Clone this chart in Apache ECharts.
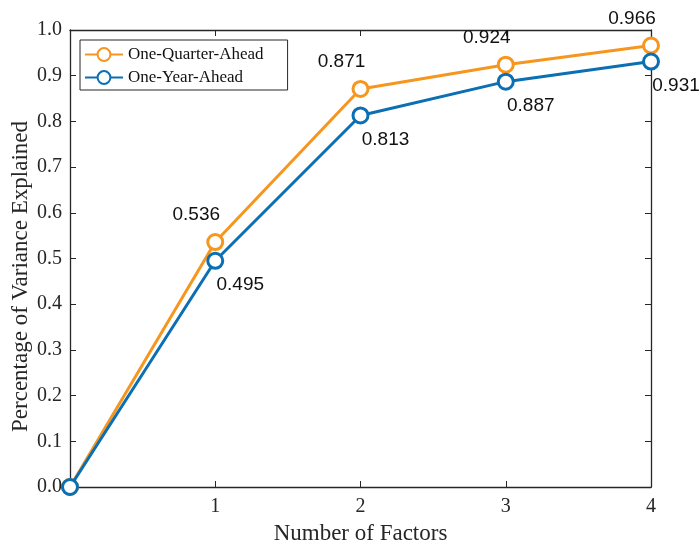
<!DOCTYPE html>
<html><head><meta charset="utf-8">
<script src="https://cdn.jsdelivr.net/npm/echarts@6/dist/echarts.min.js"></script>
<style>html,body{margin:0;padding:0;background:#fff}#c{width:700px;height:546px}</style>
</head><body><div id="c"></div>
<script>
const factors = [0, 1, 2, 3, 4];
const quarterAhead = [0, 0.536, 0.871, 0.924, 0.966];
const yearAhead = [0, 0.495, 0.813, 0.887, 0.931];
const seriesNames = ['One-Quarter-Ahead', 'One-Year-Ahead'];

const axisColor = '#262626';
const serif = 'Liberation Serif';
const orange = '#F7961E';
const blue = '#0A6FB3';
const pairs = (ys) => factors.map((x, i) => [x, ys[i]]);
const fmt = (p) => p.value[0] === 0 ? '' : p.value[1].toFixed(3);

const chart = echarts.init(document.getElementById('c'));
const baseAxis = {
  axisLine: { show: true, onZero: false, lineStyle: { color: axisColor, width: 1.3 } },
  axisTick: { show: true, inside: true, length: 6, lineStyle: { color: axisColor } },
  splitLine: { show: false },
  axisLabel: { color: axisColor, fontFamily: serif, fontSize: 20 }
};
chart.setOption({
  animation: false,
  grid: { left: 70, right: 49, top: 30, bottom: 59, containLabel: false, outerBoundsMode: 'none' },
  legend: {
    left: 80, top: 40, orient: 'vertical',
    itemWidth: 38, itemHeight: 16, itemGap: 6,
    padding: [6, 24, 4, 4],
    borderColor: axisColor, borderWidth: 1, backgroundColor: '#fff',
    textStyle: { fontFamily: serif, fontSize: 17, color: '#111' },
    data: seriesNames
  },
  xAxis: [
    Object.assign({}, baseAxis, {
      type: 'value', min: 0, max: 4, interval: 1,
      name: 'Number of Factors', nameLocation: 'middle', nameGap: 35,
      nameTextStyle: { fontFamily: serif, fontSize: 23, color: axisColor },
      axisLabel: Object.assign({}, baseAxis.axisLabel, { margin: 10, formatter: v => v === 0 ? '' : String(v) })
    }),
    Object.assign({}, baseAxis, { type: 'value', position: 'top', min: 0, max: 4, interval: 1, axisLabel: { show: false } })
  ],
  yAxis: [
    Object.assign({}, baseAxis, {
      type: 'value', min: 0, max: 1, interval: 0.1,
      name: 'Percentage of Variance Explained', nameLocation: 'middle', nameGap: 38, nameMoveOverlap: false,
      nameTextStyle: { fontFamily: serif, fontSize: 23, color: axisColor, padding: [0, 36, 0, 0] },
      axisLabel: Object.assign({}, baseAxis.axisLabel, { margin: 8, formatter: v => v.toFixed(1) })
    }),
    Object.assign({}, baseAxis, { type: 'value', position: 'right', min: 0, max: 1, interval: 0.1, axisLabel: { show: false } })
  ],
  series: [
    {
      name: seriesNames[0], type: 'line', data: pairs(quarterAhead),
      symbol: 'circle', symbolSize: 15, z: 3,
      lineStyle: { width: 3, color: orange }, itemStyle: { color: '#fff', borderColor: orange, borderWidth: 3 },
      label: { show: true, position: 'inside', offset: [-19, -27], formatter: fmt,
        fontFamily: 'Liberation Sans', fontSize: 19, color: '#111' }
    },
    {
      name: seriesNames[1], type: 'line', data: pairs(yearAhead),
      symbol: 'circle', symbolSize: 15, z: 4,
      lineStyle: { width: 3, color: blue }, itemStyle: { color: '#fff', borderColor: blue, borderWidth: 3 },
      label: { show: true, position: 'inside', offset: [25, 24], formatter: fmt,
        fontFamily: 'Liberation Sans', fontSize: 19, color: '#111' }
    }
  ]
});
</script></body></html>
